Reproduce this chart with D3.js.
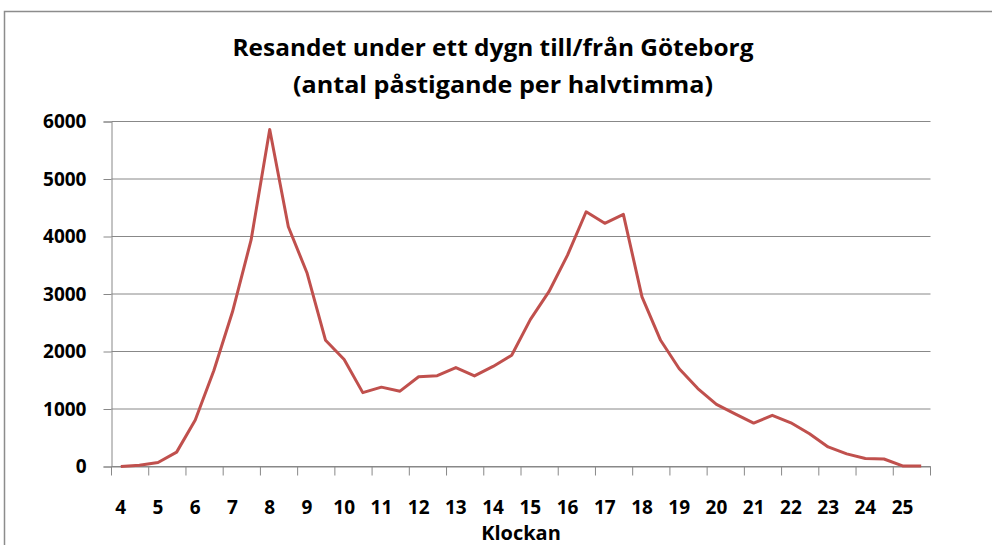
<!DOCTYPE html>
<html>
<head>
<meta charset="utf-8">
<script src="https://cdn.jsdelivr.net/npm/d3@7"></script>
<style>
  body { margin: 0; background: #fff; }
  text { font-family: "Open Sans", sans-serif; font-weight: bold; fill: #000; }
</style>
</head>
<body>
<svg width="992" height="545"></svg>
<script>
// Half-hour slots over the day
const categories = [
  "4:00","4:30","5:00","5:30","6:00","6:30","7:00","7:30","8:00","8:30",
  "9:00","9:30","10:00","10:30","11:00","11:30","12:00","12:30","13:00","13:30",
  "14:00","14:30","15:00","15:30","16:00","16:30","17:00","17:30","18:00","18:30",
  "19:00","19:30","20:00","20:30","21:00","21:30","22:00","22:30","23:00","23:30",
  "24:00","24:30","25:00","25:30"
];
const passengers = [
  0, 20, 70, 250, 810, 1670, 2690, 3940, 5860, 4170,
  3370, 2195, 1860, 1285, 1380, 1310, 1560, 1580, 1720, 1575,
  1740, 1935, 2555, 3040, 3675, 4430, 4230, 4385, 2950, 2195,
  1700, 1355, 1080, 915, 755, 890, 760, 570, 340, 220,
  140, 130, 10, 10
];
const hourLabels = ["4","5","6","7","8","9","10","11","12","13","14","15",
  "16","17","18","19","20","21","22","23","24","25"];
const yTicks = [0, 1000, 2000, 3000, 4000, 5000, 6000];

const title1 = "Resandet under ett dygn till/från Göteborg";
const title2 = "(antal påstigande per halvtimma)";
const xTitle = "Klockan";

const svg = d3.select("svg");

// chart area border (runs off the right/bottom of the window)
svg.append("path")
  .attr("d", "M4.5,1000V11.5H1000")
  .attr("fill", "none")
  .attr("stroke", "#8c8c8c")
  .attr("stroke-width", 1.5);

const plotLeft = 111.5, plotRight = 930.5, plotTop = 121.5, plotBottom = 466.5;

const x = d3.scaleBand().domain(categories).range([plotLeft, plotRight]);
const y = d3.scaleLinear().domain([0, 6000]).range([plotBottom, plotTop]);

// horizontal gridlines
svg.append("g")
  .selectAll("line")
  .data(yTicks)
  .join("line")
    .attr("x1", plotLeft).attr("x2", plotRight)
    .attr("y1", d => y(d)).attr("y2", d => y(d))
    .attr("stroke", "#888")
    .attr("stroke-width", 1);

// y axis
const yAxis = svg.append("g")
  .attr("transform", `translate(${plotLeft},0)`)
  .call(d3.axisLeft(y).tickValues(yTicks).tickSize(8).tickPadding(17).tickFormat(d3.format("d")));
yAxis.selectAll("path, line").attr("stroke", "#888");
yAxis.selectAll("text").attr("font-size", 19).attr("font-family", null).attr("fill", "#000");

// x axis: labels every two half-hours, tick marks on the category boundaries
const labelCats = categories.filter((c, i) => i % 2 === 0);
const xAxis = svg.append("g")
  .attr("transform", `translate(0,${plotBottom})`)
  .call(d3.axisBottom(x).tickValues(labelCats).tickSize(0).tickPadding(34)
    .tickFormat((d, i) => hourLabels[i]));
xAxis.select(".domain").attr("stroke", "#888");
xAxis.selectAll("text").attr("font-size", 19).attr("font-family", null).attr("fill", "#000");

const bounds = labelCats.map(c => x(c)).concat([x(categories[categories.length - 1]) + x.bandwidth()]);
svg.append("g")
  .selectAll("line")
  .data(bounds)
  .join("line")
    .attr("x1", d => d).attr("x2", d => d)
    .attr("y1", plotBottom).attr("y2", plotBottom + 9)
    .attr("stroke", "#888");

// data line
const line = d3.line()
  .x((d, i) => x(categories[i]) + x.bandwidth() / 2)
  .y(d => y(d));

svg.append("path")
  .datum(passengers)
  .attr("d", line)
  .attr("fill", "none")
  .attr("stroke", "#c0504d")
  .attr("stroke-width", 3)
  .attr("stroke-linejoin", "round");

// titles
svg.append("text")
  .attr("x", 493).attr("y", 56)
  .attr("text-anchor", "middle")
  .attr("font-size", 24)
  .attr("textLength", 521).attr("lengthAdjust", "spacingAndGlyphs")
  .text(title1);
svg.append("text")
  .attr("x", 503).attr("y", 93)
  .attr("text-anchor", "middle")
  .attr("font-size", 24)
  .attr("textLength", 420).attr("lengthAdjust", "spacingAndGlyphs")
  .text(title2);

svg.append("text")
  .attr("x", 521).attr("y", 540)
  .attr("text-anchor", "middle")
  .attr("font-size", 20)
  .text(xTitle);
</script>
</body>
</html>
